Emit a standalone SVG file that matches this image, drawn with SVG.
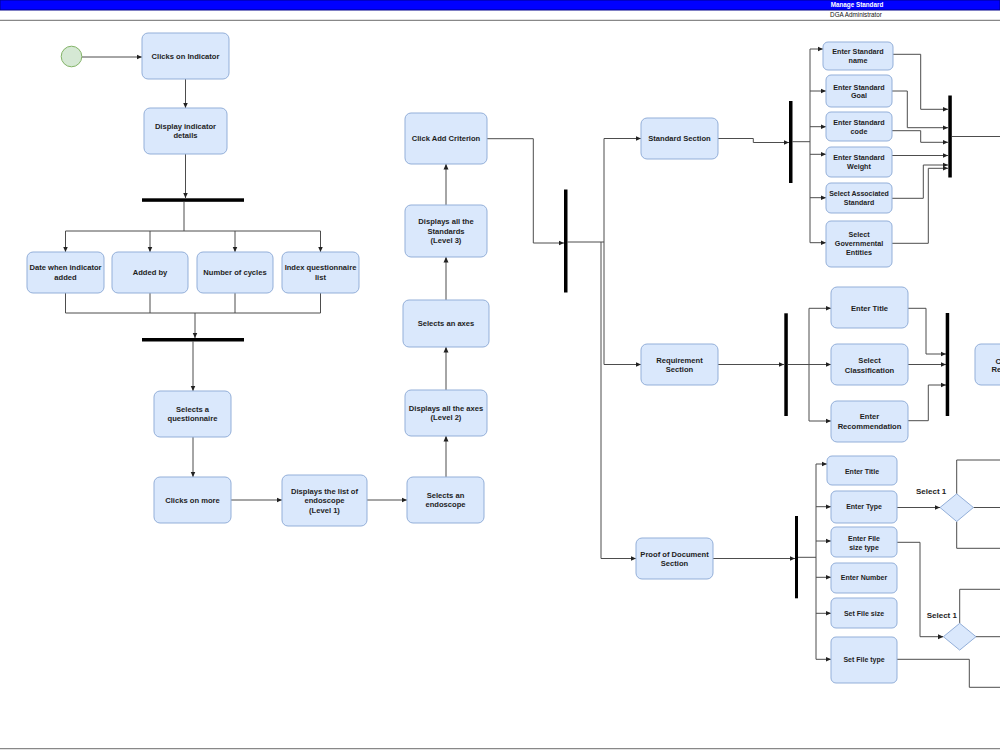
<svg xmlns="http://www.w3.org/2000/svg" width="1000" height="750" viewBox="0 0 1000 750">
<defs>
<marker id="arr" markerUnits="userSpaceOnUse" markerWidth="6" markerHeight="6" refX="5.5" refY="3" orient="auto">
<path d="M0,0.5 L5.5,3 L0,5.5 z" fill="#222"/>
</marker>
<style>
.n{fill:#dae8fc;stroke:#93afd9;stroke-width:1}
.t{font-family:"Liberation Sans",Arial,sans-serif;font-weight:bold;font-size:7.6px;fill:#1e1e1e;text-anchor:middle}
.s{font-size:7.2px}
.p{font-size:7px}
.bar{fill:#000}
.c path{fill:none;stroke:#4d4d4d;stroke-width:1}
.a{marker-end:url(#arr)}
.lbl{font-family:"Liberation Sans",Arial,sans-serif;font-weight:bold;font-size:8px;fill:#1e1e1e}
</style>
</defs>
<rect width="1000" height="750" fill="#fff"/>
<g id="header">
<rect x="0" y="0" width="1000" height="10" fill="#0000ff" stroke="#00008b" stroke-width="1"/>
<text x="857" y="7.3" text-anchor="middle" font-family="'Liberation Sans',Arial,sans-serif" font-weight="bold" font-size="6.3" fill="#fff">Manage Standard</text>
<text x="856" y="17" text-anchor="middle" font-family="'Liberation Sans',Arial,sans-serif" font-size="6.3" fill="#111">DGA Administrator</text>
<line x1="0" y1="20.3" x2="1000" y2="20.3" stroke="#888" stroke-width="1.3"/>
<line x1="0" y1="748.7" x2="1000" y2="748.7" stroke="#888" stroke-width="1.3"/>
</g>
<g id="connectors" class="c">
<path class="a" d="M82,57 H142"/>
<path class="a" d="M185.5,79 V108"/>
<path class="a" d="M185.5,154 V198"/>
<path d="M184,202 V231 M65.5,231 H320.5"/>
<path class="a" d="M65.5,231 V252"/>
<path class="a" d="M150,231 V252"/>
<path class="a" d="M235,231 V252"/>
<path class="a" d="M320.5,231 V252"/>
<path d="M65.5,293 V313 M150,293 V313 M235,293 V313 M320.5,293 V313 M65.5,313 H320.5"/>
<path class="a" d="M195,313 V338"/>
<path class="a" d="M193,341.5 V391"/>
<path class="a" d="M193,437 V477"/>
<path class="a" d="M231,500 H282"/>
<path class="a" d="M367,500 H407"/>
<path class="a" d="M446,477 V436"/>
<path class="a" d="M446,390 V347"/>
<path class="a" d="M446,300 V257"/>
<path class="a" d="M446,205 V164"/>
<path class="a" d="M487,138.7 H533.3 V243 H564"/>
<path d="M567.5,242 H604 M604,138.5 V364.5"/>
<path class="a" d="M604,138.5 H641"/>
<path class="a" d="M604,364.5 H641"/>
<path class="a" d="M601,242 V558.5 H636"/>
<path class="a" d="M718,138.5 H753.3 V142.5 H789"/>
<path d="M792.5,141.7 H810 M810,49 V242.7"/>
<path class="a" d="M810,49 H823"/>
<path class="a" d="M810,91 H826"/>
<path class="a" d="M810,126.7 H826"/>
<path class="a" d="M810,154.3 H826"/>
<path class="a" d="M810,197.7 H826"/>
<path class="a" d="M810,242.7 H826"/>
<path class="a" d="M893,54.3 H920.7 V109.3 H948"/>
<path class="a" d="M892,91 H907.3 V127.7 H948"/>
<path class="a" d="M892,130.7 H920.7 V142.3 H948"/>
<path class="a" d="M892,155.5 H948"/>
<path class="a" d="M892,198.3 H923.3 V165 H948"/>
<path class="a" d="M892,243.3 H928.3 V168.3 H948"/>
<path d="M952,136.5 H1000"/>
<path class="a" d="M718,364.5 H784"/>
<path d="M788,364.5 H809 M809,308.3 V421"/>
<path class="a" d="M809,308.3 H831"/>
<path class="a" d="M809,364.5 H831"/>
<path class="a" d="M809,421 H831"/>
<path class="a" d="M908,308.3 H926 V354 H946"/>
<path class="a" d="M908,364.5 H946"/>
<path class="a" d="M908,420.7 H928.3 V385 H946"/>
<path class="a" d="M713,558.5 H795"/>
<path d="M798,557.3 H816 M816,464 V659.3"/>
<path class="a" d="M816,464 H827"/>
<path class="a" d="M816,506.7 H831"/>
<path class="a" d="M816,541 H831"/>
<path class="a" d="M816,577.3 H831"/>
<path class="a" d="M816,613.3 H831"/>
<path class="a" d="M816,659.3 H831"/>
<path class="a" d="M897,507.5 H940"/>
<path d="M956.7,494 V460 H1000 M973.4,507.5 H1000 M956.7,521.5 V548.3 H1000"/>
<path class="a" d="M897,542.3 H920 V636.7 H943.4"/>
<path d="M959.7,623.3 V589.3 H1000 M976,636.7 H1000"/>
<path d="M897,659.3 H969.3 V687.3 H1000"/>
</g>
<g id="bars">
<rect class="bar" x="142" y="198.3" width="102" height="3.5"/>
<rect class="bar" x="142" y="338" width="102" height="3.5"/>
<rect class="bar" x="564" y="189.5" width="3.5" height="103"/>
<rect class="bar" x="789" y="101" width="3.5" height="82"/>
<rect class="bar" x="948.3" y="95.5" width="3.5" height="82"/>
<rect class="bar" x="784.3" y="313.3" width="3.5" height="102.7"/>
<rect class="bar" x="945.7" y="313" width="3.5" height="103"/>
<rect class="bar" x="795" y="516" width="3" height="82.3"/>
</g>
<g id="start"><circle cx="71.5" cy="56.5" r="10.3" fill="#d5e8d4" stroke="#82b366" stroke-width="1"/></g>
<g id="clicks_indicator"><rect class="n" x="142" y="33" width="87" height="46" rx="6"/><text class="t" x="185.5" y="58.7">Clicks on Indicator</text></g>
<g id="display_details"><rect class="n" x="144" y="108" width="83" height="46" rx="6"/><text class="t" x="185.5" y="129">Display indicator</text><text class="t" x="185.5" y="138.3">details</text></g>
<g id="date_added"><rect class="n" x="27" y="252" width="77" height="41" rx="6"/><text class="t" x="65.5" y="270.3">Date when indicator</text><text class="t" x="65.5" y="279.6">added</text></g>
<g id="added_by"><rect class="n" x="112" y="252" width="76" height="41" rx="6"/><text class="t" x="150" y="275.2">Added by</text></g>
<g id="cycles"><rect class="n" x="197" y="252" width="76" height="41" rx="6"/><text class="t" x="235" y="275.2">Number of cycles</text></g>
<g id="index_list"><rect class="n" x="282" y="252" width="77" height="41" rx="6"/><text class="t" x="320.5" y="270.3">Index questionnaire</text><text class="t" x="320.5" y="279.6">list</text></g>
<g id="selects_questionnaire"><rect class="n" x="154" y="391" width="77" height="46" rx="6"/><text class="t" x="192.5" y="412">Selects a</text><text class="t" x="192.5" y="421.3">questionnaire</text></g>
<g id="clicks_more"><rect class="n" x="154" y="477" width="77" height="46" rx="6"/><text class="t" x="192.5" y="502.7">Clicks on more</text></g>
<g id="list_endoscope"><rect class="n" x="282" y="475" width="85" height="51" rx="6"/><text class="t" x="324.5" y="493.9">Displays the list of</text><text class="t" x="324.5" y="503.2">endoscope</text><text class="t" x="324.5" y="512.5">(Level 1)</text></g>
<g id="selects_endoscope"><rect class="n" x="407" y="477" width="77" height="46" rx="6"/><text class="t" x="445.5" y="498">Selects an</text><text class="t" x="445.5" y="507.3">endoscope</text></g>
<g id="axes_level2"><rect class="n" x="405" y="390" width="82" height="46" rx="6"/><text class="t" x="446" y="411">Displays all the axes</text><text class="t" x="446" y="420.3">(Level 2)</text></g>
<g id="selects_axes"><rect class="n" x="403" y="300" width="86" height="47" rx="6"/><text class="t" x="446" y="326.2">Selects an axes</text></g>
<g id="standards_level3"><rect class="n" x="405" y="205" width="82" height="52" rx="6"/><text class="t" x="446" y="224.4">Displays all the</text><text class="t" x="446" y="233.7">Standards</text><text class="t" x="446" y="243">(Level 3)</text></g>
<g id="add_criterion"><rect class="n" x="405" y="113" width="82" height="51" rx="6"/><text class="t" x="446" y="141.2">Click Add Criterion</text></g>
<g id="standard_section"><rect class="n" x="641" y="118" width="77" height="41" rx="6"/><text class="t" x="679.5" y="141.2">Standard Section</text></g>
<g id="requirement_section"><rect class="n" x="641" y="344" width="77" height="41" rx="6"/><text class="t" x="679.5" y="362.5">Requirement</text><text class="t" x="679.5" y="371.8">Section</text></g>
<g id="proof_section"><rect class="n" x="636" y="538" width="77" height="41" rx="6"/><text class="t" x="674.5" y="556.5">Proof of Document</text><text class="t" x="674.5" y="565.8">Section</text></g>
<g id="std_name"><rect class="n" x="823" y="42" width="70" height="28" rx="5"/><text class="t s" x="858" y="54.3">Enter Standard</text><text class="t s" x="858" y="62.9">name</text></g>
<g id="std_goal"><rect class="n" x="826" y="75" width="66" height="32" rx="5"/><text class="t s" x="859" y="89.8">Enter Standard</text><text class="t s" x="859" y="98.4">Goal</text></g>
<g id="std_code"><rect class="n" x="826" y="112" width="66" height="29" rx="5"/><text class="t s" x="859" y="125.1">Enter Standard</text><text class="t s" x="859" y="133.7">code</text></g>
<g id="std_weight"><rect class="n" x="826" y="147" width="66" height="30" rx="5"/><text class="t s" x="859" y="160">Enter Standard</text><text class="t s" x="859" y="168.6">Weight</text></g>
<g id="std_associated"><rect class="n" x="826" y="183" width="66" height="30" rx="5"/><text class="t p" x="859" y="196.1">Select Associated</text><text class="t p" x="859" y="204.7">Standard</text></g>
<g id="std_governmental"><rect class="n" x="826" y="221" width="66" height="46" rx="5"/><text class="t s" x="859" y="237.2">Select</text><text class="t s" x="859" y="246">Governmental</text><text class="t s" x="859" y="254.8">Entities</text></g>
<g id="req_title"><rect class="n" x="831" y="287" width="77" height="41" rx="6"/><text class="t" x="869.5" y="311">Enter Title</text></g>
<g id="req_classification"><rect class="n" x="831" y="344" width="77" height="41" rx="6"/><text class="t" x="869.5" y="363.4">Select</text><text class="t" x="869.5" y="372.7">Classification</text></g>
<g id="req_recommendation"><rect class="n" x="831" y="401" width="77" height="41" rx="6"/><text class="t" x="869.5" y="419.4">Enter</text><text class="t" x="869.5" y="428.7">Recommendation</text></g>
<g id="req_next"><rect class="n" x="975" y="344" width="77" height="41" rx="6"/><text class="t" x="995.5" y="364.4" text-anchor="start" style="text-anchor:start">C</text><text class="t" x="991.5" y="372.2" style="text-anchor:start">Re</text></g>
<g id="pod_title"><rect class="n" x="827" y="456" width="70" height="29" rx="5"/><text class="t p" x="862" y="473.5">Enter Title</text></g>
<g id="pod_type"><rect class="n" x="831" y="491" width="66" height="32" rx="5"/><text class="t p" x="864" y="509.2">Enter Type</text></g>
<g id="pod_filesize_type"><rect class="n" x="831" y="527" width="66" height="30" rx="5"/><text class="t p" x="864" y="540.8">Enter File</text><text class="t p" x="864" y="549.8">size type</text></g>
<g id="pod_number"><rect class="n" x="831" y="563" width="66" height="30" rx="5"/><text class="t p" x="864" y="579.8">Enter Number</text></g>
<g id="pod_set_size"><rect class="n" x="831" y="598" width="66" height="30" rx="5"/><text class="t p" x="864" y="615.8">Set File size</text></g>
<g id="pod_set_type"><rect class="n" x="831" y="637" width="66" height="46" rx="5"/><text class="t p" x="864" y="661.8">Set File type</text></g>
<g id="decision_type"><polygon class="n" points="940,507.5 956.7,493.8 973.4,507.5 956.7,521.5" stroke-linejoin="round"/><text class="lbl" x="916" y="493.8">Select 1</text></g>
<g id="decision_filesize"><polygon class="n" points="943.4,636.7 959.7,623.3 976,636.7 959.7,650.1" stroke-linejoin="round"/><text class="lbl" x="926.7" y="617.8">Select 1</text></g>
</svg>
